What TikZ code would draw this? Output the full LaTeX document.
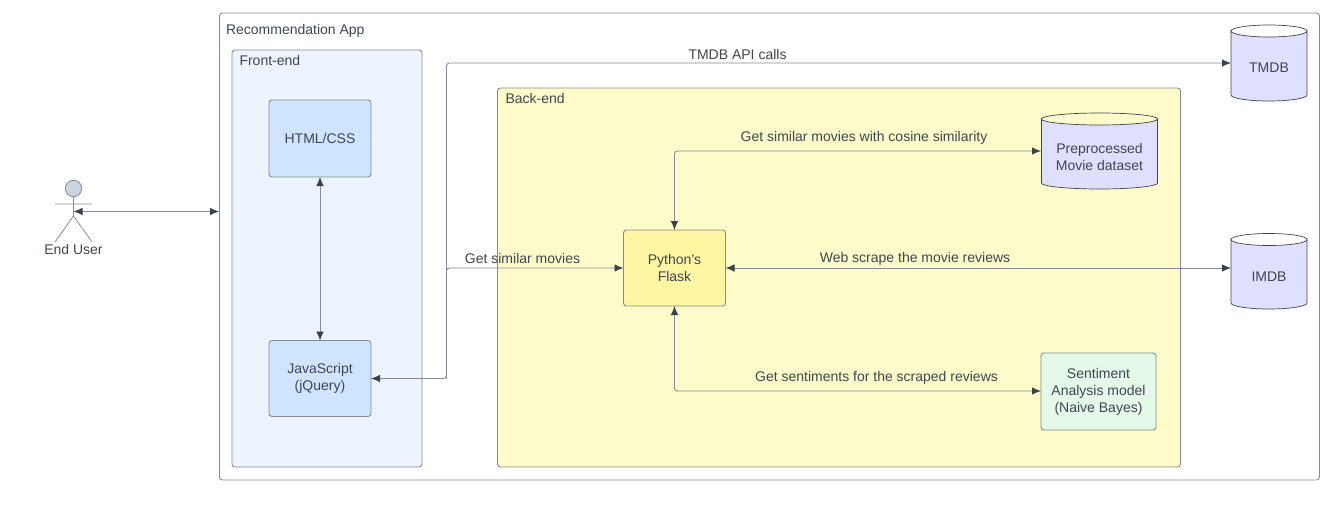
\documentclass[tikz,border=0pt]{standalone}
\usepackage{fontspec}
\setmainfont{Liberation Sans}
\usetikzlibrary{arrows.meta,shapes.geometric}
\definecolor{ink}{HTML}{3F4650}
\definecolor{tip}{HTML}{3A414A}
\definecolor{edge}{HTML}{858B96}
\definecolor{feblue}{HTML}{EDF4FF}
\definecolor{boxblue}{HTML}{CFE4FF}
\definecolor{beyellow}{HTML}{FDFBC9}
\definecolor{flask}{HTML}{FFF6A3}
\definecolor{dbfill}{HTML}{DFDFFF}
\definecolor{sentgreen}{HTML}{E4F9E8}
\definecolor{headfill}{HTML}{CBD3DE}
\tikzset{
 x=1pt,y=-1pt,
 every node/.style={font=\fontsize{14}{17}\selectfont,text=ink,align=center,inner sep=0pt,outer sep=0pt},
 panel/.style={draw=edge,line width=0.9pt,rounded corners=3pt},
 titletext/.style={anchor=base west},
 lbl/.style={anchor=base},
 box/.style={draw=edge,line width=0.9pt,rounded corners=3pt,minimum width=#1},
 conn/.style={draw=edge,line width=0.9pt,rounded corners=3pt,-{Latex[length=9pt,width=7.5pt,color=tip]}},
 biconn/.style={draw=edge,line width=0.9pt,rounded corners=3pt,{Latex[length=9pt,width=7.5pt,color=tip]}-{Latex[length=9pt,width=7.5pt,color=tip]}},
 dbline/.style={draw=ink,line width=0.7pt,fill=dbfill},
}
\newcommand{\dbshape}[4]{% cx, top, bottom, half width
 \path[dbline] (#1-#4,#2+6) arc[x radius=#4,y radius=6,start angle=180,end angle=0] -- (#1+#4,#3-6) arc[x radius=#4,y radius=6,start angle=0,end angle=180] -- cycle;
 \draw[ink,line width=0.7pt] (#1-#4,#2+6) arc[x radius=#4,y radius=6,start angle=180,end angle=360];
}
\begin{document}
\begin{tikzpicture}
\useasboundingbox (0,0) rectangle (1330,514);
% containers
\node[panel,fill=white,minimum width=1100,minimum height=467,anchor=north west] (app) at (219.5,13) {};
\node[titletext] (apptitle) at (226,34.5) {Recommendation App};
\node[panel,fill=feblue,minimum width=190,minimum height=417,anchor=north west] (fe) at (232,50) {};
\node[titletext] (fetitle) at (239.5,65.5) {Front-end};
\node[panel,fill=beyellow,minimum width=683,minimum height=379,anchor=north west] (be) at (497.5,88) {};
\node[titletext] (betitle) at (505.5,103.5) {Back-end};
% boxes
\node[box=102,fill=boxblue,minimum height=77,anchor=north west] (html) at (269,100) {HTML/CSS};
\node[box=102,fill=boxblue,minimum height=76,anchor=north west] (js) at (269,340.5) {JavaScript\\(jQuery)};
\node[box=102,fill=flask,minimum height=76,anchor=north west] (flask) at (623.5,230) {Python's\\Flask};
\node[box=115,fill=sentgreen,minimum height=77,anchor=north west] (sent) at (1041,353) {Sentiment\\Analysis model\\(Naive Bayes)};
% databases
\dbshape{1099.5}{113}{189}{58}
\node[minimum width=116,minimum height=76] (prep) at (1099.5,157) {Preprocessed\\Movie dataset};
\dbshape{1269}{25}{101}{38}
\node[minimum width=76,minimum height=76] (tmdb) at (1269,68) {TMDB};
\dbshape{1269}{233.5}{309}{38}
\node[minimum width=76,minimum height=76] (imdb) at (1269,277) {IMDB};
% actor
\node[circle,draw=edge,fill=headfill,line width=0.8pt,minimum size=16.5pt] (head) at (73.5,188.5) {};
\coordinate (neck) at (73.5,197);
\coordinate (hip) at (73.5,216);
\coordinate (armL) at (55,204);
\coordinate (armR) at (92,204);
\coordinate (legL) at (55,242);
\coordinate (legR) at (92,242);
\draw[edge,line width=0.8pt] (neck) -- (hip) (armL) -- (armR) (legL) -- (hip) -- (legR);
\node[lbl] (user) at (73.5,254) {End User};
% connectors
\coordinate (userport) at (73.5,211.5);
\coordinate (appport) at (219,211.5);
\draw[biconn] (userport) -- (appport);
\draw[biconn] (html.south) -- (js.north);
\coordinate (jsport) at (371,378.5);
\coordinate (bus) at (446.5,378.5);
\coordinate (flaskin) at (623.5,268);
\coordinate (tmdbin) at (1231,63);
\draw[biconn] (jsport) -- (bus) -- (446.5,63) -- (tmdbin);
\draw[conn] (bus) -- (446.5,268) -- (flaskin);
\coordinate (prepin) at (1041,151);
\draw[biconn] (flask.north) -- (674.5,151) -- (prepin);
\coordinate (imdbin) at (1231,268);
\coordinate (flaskout) at (725.5,268);
\draw[biconn] (flaskout) -- (imdbin);
\coordinate (sentin) at (1041,391);
\draw[biconn] (flask.south) -- (674.5,391) -- (sentin);
% labels
\node[lbl] (l1) at (737.5,59.5) {TMDB API calls};
\node[lbl] (l2) at (864,141) {Get similar movies with cosine similarity};
\node[lbl] (l3) at (522.5,263) {Get similar movies};
\node[lbl] (l4) at (915,262.5) {Web scrape the movie reviews};
\node[lbl] (l5) at (876.5,381.5) {Get sentiments for the scraped reviews};
\end{tikzpicture}
\end{document}
